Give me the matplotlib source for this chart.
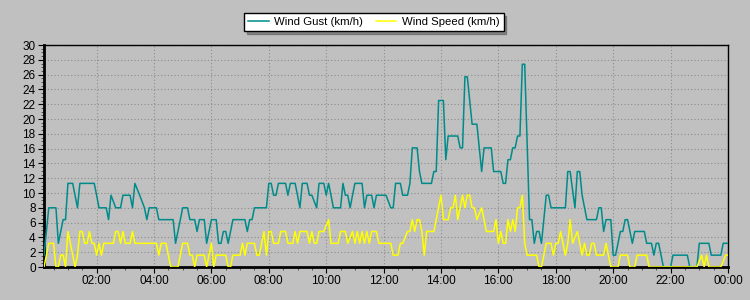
import matplotlib
matplotlib.use("Agg")
import matplotlib.pyplot as plt
from matplotlib.ticker import MultipleLocator, FixedLocator

plt.rcParams["font.family"] = ["Liberation Sans", "DejaVu Sans"]

BG = "#c0c0c0"
GUST_COLOR = "#008b8b"
SPEED_COLOR = "#ffff00"

# Minutes after midnight and km/h where each trace changes direction.
gust_min = [
    10, 20, 35, 40, 45, 50, 55, 60, 70, 80,
    85, 115, 120, 125, 140, 145, 150, 160, 170, 175,
    190, 195, 200, 210, 220, 225, 230, 245, 250, 280,
    285, 290, 295, 300, 310, 315, 325, 330, 335, 345,
    350, 355, 360, 370, 375, 380, 385, 390, 395, 400,
    405, 430, 435, 440, 445, 450, 475, 480, 485, 490,
    495, 500, 515, 520, 525, 535, 540, 545, 550, 560,
    565, 570, 580, 585, 595, 600, 605, 610, 615, 630,
    635, 640, 645, 650, 655, 660, 675, 680, 685, 695,
    700, 705, 725, 735, 740, 745, 755, 760, 770, 775,
    780, 790, 795, 800, 820, 825, 830, 835, 845, 850,
    855, 875, 880, 885, 890, 895, 905, 915, 920, 925,
    930, 945, 950, 965, 970, 975, 980, 985, 990, 995,
    1000, 1005, 1010, 1015, 1025, 1030, 1035, 1040, 1045, 1050,
    1055, 1060, 1065, 1070, 1100, 1105, 1110, 1120, 1125, 1130,
    1135, 1145, 1165, 1170, 1175, 1180, 1185, 1195, 1200, 1205,
    1210, 1215, 1220, 1225, 1230, 1235, 1240, 1245, 1265, 1270,
    1280, 1285, 1290, 1295, 1300, 1305, 1320, 1325, 1355, 1360,
    1375, 1380, 1400, 1405, 1425, 1430, 1440,
]
gust_kmh = [
    1.6, 8.0, 8.0, 3.2, 4.8, 6.4, 6.4, 11.3, 11.3, 8.0,
    11.3, 11.3, 9.7, 8.0, 8.0, 6.4, 9.7, 8.0, 8.0, 9.7,
    9.7, 8.0, 11.3, 9.7, 8.0, 6.4, 8.0, 8.0, 6.4, 6.4,
    3.2, 4.8, 6.4, 8.0, 8.0, 6.4, 6.4, 4.8, 6.4, 6.4,
    3.2, 4.8, 6.4, 6.4, 3.2, 3.2, 4.8, 4.8, 3.2, 4.8,
    6.4, 6.4, 4.8, 6.4, 6.4, 8.0, 8.0, 11.3, 11.3, 9.7,
    9.7, 11.3, 11.3, 9.7, 11.3, 11.3, 9.7, 8.0, 11.3, 11.3,
    9.7, 9.7, 8.0, 11.3, 11.3, 9.7, 11.3, 9.7, 8.0, 8.0,
    11.3, 9.7, 9.7, 8.0, 9.7, 11.3, 11.3, 8.0, 9.7, 9.7,
    8.0, 9.7, 9.7, 8.0, 8.0, 11.3, 11.3, 9.7, 9.7, 11.3,
    16.1, 16.1, 12.9, 11.3, 11.3, 12.9, 12.9, 22.5, 22.5, 14.5,
    17.7, 17.7, 16.1, 16.1, 25.7, 25.7, 19.3, 19.3, 16.1, 12.9,
    16.1, 16.1, 12.9, 12.9, 11.3, 11.3, 14.5, 14.5, 16.1, 16.1,
    17.7, 17.7, 27.4, 27.4, 6.4, 6.4, 3.2, 4.8, 4.8, 3.2,
    6.4, 9.7, 9.7, 8.0, 8.0, 12.9, 12.9, 8.0, 12.9, 12.9,
    9.7, 6.4, 6.4, 8.0, 8.0, 4.8, 6.4, 6.4, 1.6, 1.6,
    3.2, 4.8, 4.8, 6.4, 6.4, 4.8, 3.2, 4.8, 4.8, 3.2,
    3.2, 1.6, 3.2, 3.2, 1.6, 0.0, 0.0, 1.6, 1.6, 0.0,
    0.0, 3.2, 3.2, 1.6, 1.6, 3.2, 3.2,
]

speed_min = [
    10, 20, 30, 35, 40, 45, 50, 55, 60, 65,
    70, 75, 80, 85, 90, 95, 100, 105, 110, 115,
    120, 125, 130, 135, 155, 160, 165, 170, 175, 180,
    190, 195, 200, 245, 250, 255, 265, 275, 290, 300,
    310, 315, 320, 325, 330, 345, 350, 360, 365, 370,
    390, 395, 400, 405, 420, 425, 430, 435, 450, 455,
    460, 470, 475, 480, 485, 490, 500, 505, 515, 520,
    530, 535, 540, 545, 560, 565, 570, 575, 580, 585,
    595, 605, 610, 625, 630, 640, 645, 655, 660, 665,
    670, 675, 680, 685, 690, 695, 705, 710, 735, 740,
    750, 755, 760, 770, 775, 780, 785, 790, 795, 800,
    805, 810, 825, 830, 840, 845, 855, 860, 865, 870,
    875, 885, 890, 895, 900, 905, 910, 915, 925, 935,
    950, 955, 960, 965, 970, 975, 980, 985, 990, 995,
    1000, 1005, 1010, 1015, 1020, 1040, 1045, 1050, 1055, 1060,
    1070, 1075, 1080, 1085, 1090, 1095, 1100, 1105, 1110, 1115,
    1125, 1130, 1135, 1140, 1145, 1150, 1155, 1160, 1165, 1180,
    1185, 1190, 1195, 1210, 1215, 1230, 1235, 1245, 1250, 1270,
    1275, 1375, 1385, 1390, 1395, 1400, 1425, 1435, 1440,
]
speed_kmh = [
    0.0, 3.2, 3.2, 0.0, 0.0, 1.6, 1.6, 0.0, 4.8, 3.2,
    1.6, 0.0, 1.6, 4.8, 4.8, 3.2, 3.2, 4.8, 3.2, 3.2,
    1.6, 3.2, 1.6, 3.2, 3.2, 4.8, 4.8, 3.2, 4.8, 3.2,
    3.2, 4.8, 3.2, 3.2, 1.6, 3.2, 3.2, 0.0, 0.0, 3.2,
    3.2, 1.6, 1.6, 0.0, 1.6, 1.6, 0.0, 3.2, 0.0, 1.6,
    1.6, 0.0, 0.0, 1.6, 1.6, 3.2, 1.6, 3.2, 3.2, 1.6,
    1.6, 4.8, 1.6, 4.8, 4.8, 3.2, 3.2, 4.8, 4.8, 3.2,
    3.2, 4.8, 3.2, 4.8, 4.8, 3.2, 4.8, 3.2, 3.2, 4.8,
    4.8, 6.4, 3.2, 3.2, 4.8, 4.8, 3.2, 4.8, 3.2, 4.8,
    3.2, 4.8, 3.2, 4.8, 3.2, 4.8, 4.8, 3.2, 3.2, 1.6,
    1.6, 3.2, 3.2, 4.8, 4.8, 6.4, 4.8, 6.4, 6.4, 4.8,
    1.6, 4.8, 4.8, 6.4, 9.7, 6.4, 6.4, 8.0, 8.0, 9.7,
    6.4, 9.7, 8.0, 9.7, 9.7, 8.0, 8.0, 6.4, 8.0, 4.8,
    4.8, 6.4, 3.2, 4.8, 3.2, 3.2, 6.4, 4.8, 6.4, 4.8,
    8.0, 8.0, 9.7, 3.2, 1.6, 1.6, 0.0, 0.0, 1.6, 3.2,
    3.2, 1.6, 3.2, 3.2, 4.8, 3.2, 1.6, 3.2, 6.4, 3.2,
    4.8, 3.2, 1.6, 3.2, 1.6, 1.6, 3.2, 3.2, 1.6, 1.6,
    3.2, 1.6, 0.0, 0.0, 1.6, 1.6, 0.0, 0.0, 1.6, 1.6,
    0.0, 0.0, 1.6, 0.0, 1.6, 0.0, 0.0, 1.6, 1.6,
]

hour_ticks = [2, 4, 6, 8, 10, 12, 14, 16, 18, 20, 22, 24]
hour_labels = ["02:00", "04:00", "06:00", "08:00", "10:00", "12:00",
               "14:00", "16:00", "18:00", "20:00", "22:00", "00:00"]
y_ticks = list(range(0, 31, 2))


fig = plt.figure(figsize=(7.5, 3.0), dpi=100, facecolor=BG)
ax = fig.add_axes([44 / 750, 1 - 267 / 300, 684 / 750, 222 / 300], facecolor=BG)

ax.plot([m / 60 for m in gust_min], gust_kmh, color=GUST_COLOR, lw=1.1,
        label="Wind Gust (km/h)", zorder=3)
ax.plot([m / 60 for m in speed_min], speed_kmh, color=SPEED_COLOR, lw=1.1,
        label="Wind Speed (km/h)", zorder=4)

ax.set_xlim(10 / 60, 24)
ax.set_ylim(0, 30)
ax.xaxis.set_major_locator(FixedLocator(hour_ticks))
ax.set_xticklabels(hour_labels)
ax.xaxis.set_minor_locator(MultipleLocator(0.5))
ax.set_yticks(y_ticks)
ax.yaxis.set_minor_locator(MultipleLocator(0.5))

ax.grid(True, which="major", color="#8c8c8c", linestyle=(0, (1, 2)), linewidth=0.8)
ax.tick_params(axis="both", which="major", length=4, width=0.8, labelsize=8.5,
               colors="black", pad=2)
ax.tick_params(axis="both", which="minor", length=2, width=0.6, color="#404040")

for side in ("left", "bottom"):
    ax.spines[side].set_linewidth(2.0)
for side in ("top", "right"):
    ax.spines[side].set_linewidth(1.0)

leg = fig.legend(loc="center", bbox_to_anchor=(374 / 750, 1 - 22 / 300), ncol=2,
                 fontsize=8.2, frameon=True, fancybox=False, shadow=True,
                 edgecolor="black", framealpha=1, handlelength=1.8,
                 columnspacing=1.1, borderpad=0.35, handletextpad=0.5,
                 borderaxespad=0.2)
leg.get_frame().set_linewidth(1.0)

fig.savefig("out.png", dpi=100, facecolor=BG)
